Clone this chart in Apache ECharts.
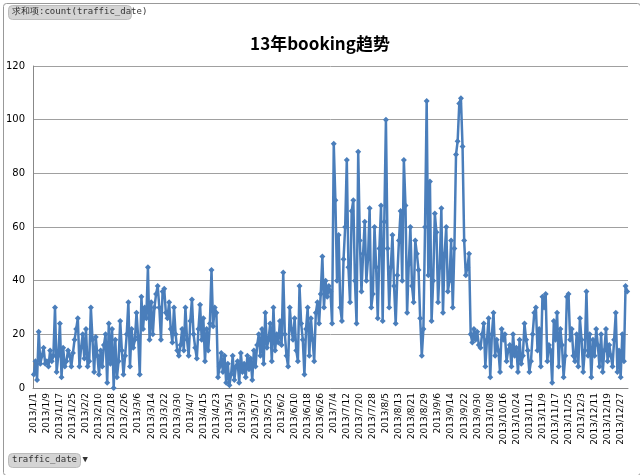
<!DOCTYPE html>
<html><head><meta charset="utf-8">
<script src="https://cdn.jsdelivr.net/npm/echarts@6/dist/echarts.min.js"></script>
<style>html,body{margin:0;padding:0;background:#fff}#c{width:640px;height:475px}</style>
</head><body><div id="c"></div>
<script>
const title = "13年booking趋势";
const yTicks = [0,20,40,60,80,100,120];
const jan = [5,10,3,21,9,12,15,9,10,8,14,10,12,30,6,12,24,4,15,8,10,14,12,8,13,18,22,26,8,15,20];
const feb = [11,22,8,10,30,18,6,19,12,5,14,8,16,20,2,24,9,22,0,18,4,10,25,14,5,12,20,32];
const mar = [8,22,15,18,28,19,5,34,22,30,26,45,18,32,20,30,35,38,30,18,36,37,28,26,32,22,17,30,20,14,12];
const apr = [16,22,14,30,18,12,25,33,20,15,11,22,31,18,26,10,22,14,24,44,23,30,28,4,8,13,6,12,2,9];
const may = [1,5,12,3,8,10,2,13,6,9,4,12,7,11,3,14,8,16,20,12,22,9,28,15,18,24,10,30,14,20,17];
const jun = [25,16,43,20,12,8,30,22,18,26,14,10,38,24,18,5,22,30,12,26,18,10,28,32,24,35,49,30,40,34];
const jul = [38,36,24,91,70,40,57,30,25,48,60,85,45,32,66,70,40,24,88,55,36,50,62,40,48,67,30,35,60,45,26];
const aug = [52,68,25,62,100,52,30,45,57,38,24,42,55,66,40,85,68,28,46,60,38,32,55,50,44,26,12,22,60,107,42];
const sep = [77,25,40,65,58,32,45,67,28,50,60,36,40,55,30,52,87,92,106,108,90,55,42,45,50,20,17,22,18,21];
const oct = [16,15,20,24,8,18,26,4,20,28,12,18,14,6,22,18,20,10,14,16,8,20,12,15,6,18,9,12,24,18,14];
const nov = [6,10,20,28,30,14,22,8,34,30,35,10,16,14,2,25,18,28,8,22,16,4,12,34,35,18,22,12,10,20];
const dec = [8,26,18,6,14,36,12,20,4,18,12,22,16,8,20,6,14,22,10,16,12,8,18,28,6,14,4,20,10,38,36];
const months = [jan,feb,mar,apr,may,jun,jul,aug,sep,oct,nov,dec];
const values = [].concat(...months);
const dates = [];
months.forEach((m,mi)=>m.forEach((_,d)=>dates.push('2013/'+(mi+1)+'/'+(d+1))));

const chart = echarts.init(document.getElementById('c'));
chart.setOption({
  animation:false,
  title:{text:title,left:'center',top:30,textStyle:{fontSize:17,fontWeight:'bold',color:'#000',fontFamily:'Noto Sans CJK SC'}},
  grid:{left:33,right:12,top:66,bottom:87},
  xAxis:{type:'category',data:dates,boundaryGap:true,
    axisLine:{lineStyle:{color:'#888'}},
    axisTick:{interval:0,length:3,lineStyle:{color:'#888'}},
    axisLabel:{interval:7,rotate:90,fontSize:9,color:'#000',fontFamily:'DejaVu Sans',margin:5}},
  yAxis:{type:'value',min:0,max:120,interval:20,
    axisLine:{show:true,lineStyle:{color:'#888'}},
    axisLabel:{fontSize:10,color:'#000',fontFamily:'DejaVu Sans',margin:8},
    splitLine:{lineStyle:{color:'#a0a0a0'}}},
  series:[{type:'line',data:values,symbol:'diamond',symbolSize:6,showSymbol:true,showAllSymbol:true,
    lineStyle:{color:'#4A7EBB',width:2.5},itemStyle:{color:'#4A7EBB'}}],
  graphic:[
    {type:'rect',left:1,top:1,shape:{width:637,height:472,r:3},style:{fill:'none',stroke:'#999',lineWidth:1}},
    {type:'rect',left:8,top:5,shape:{width:123,height:14,r:4},style:{fill:'#d4d4d4',stroke:'#bbb'}},
    {type:'text',left:12,top:7,style:{text:'求和项:count(traffic_date)',font:'9px "DejaVu Sans Mono"',fill:'#333'}},
    {type:'rect',left:8,top:453,shape:{width:72,height:14,r:4},style:{fill:'#d4d4d4',stroke:'#bbb'}},
    {type:'text',left:12,top:455,style:{text:'traffic_date ▼',font:'9px "DejaVu Sans Mono"',fill:'#333'}}
  ]
});
</script></body></html>
